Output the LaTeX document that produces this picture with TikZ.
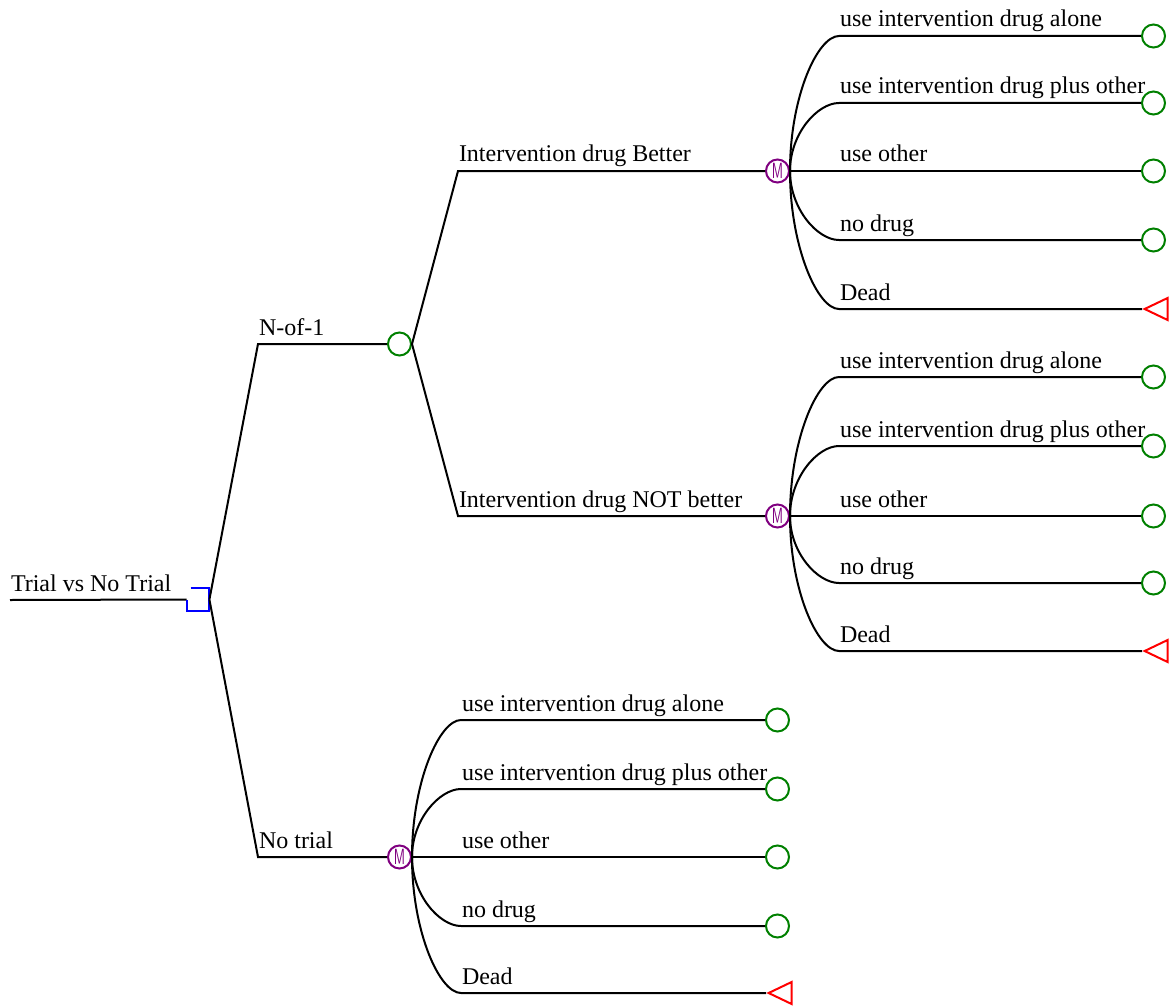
\documentclass[tikz,border=0pt]{standalone}
\usepackage{fontspec}
\setmainfont{Liberation Serif}
\usetikzlibrary{positioning}
\usetikzlibrary{calc}
\usetikzlibrary{shapes.geometric}
\definecolor{chancegreen}{RGB}{0,128,0}
\definecolor{markovpurple}{RGB}{128,0,128}
\tikzset{
  branch/.style   = {draw, line width=1pt},
  lbl/.style      = {anchor=base west, inner sep=0pt, yshift=4.5pt, pos=0,
                     font=\fontsize{12}{14}\selectfont},
  chance/.style   = {shape=circle, draw=chancegreen, line width=1pt,
                     minimum size=11.5pt, inner sep=0pt},
  markov/.style   = {chance, draw=markovpurple, text=markovpurple,
                     font=\sffamily\fontsize{11}{11}\selectfont},
  dead/.style     = {shape=isosceles triangle, shape border rotate=180,
                     isosceles triangle stretches, draw=red, line width=1pt,
                     minimum height=11.5pt, minimum width=11pt, inner sep=0pt},
  decision/.style = {shape=rectangle, minimum size=11pt, inner sep=0pt},
  outcome/.style  = {branch, to path={
                     .. controls ($(\tikztostart)!0.552!(\tikztostart |- \tikztotarget)$)
                     and ([xshift=13.8pt]\tikztostart |- \tikztotarget)
                     .. ([xshift=24.5pt]\tikztostart |- \tikztotarget) -- (\tikztotarget) \tikztonodes}}
}
\newcommand{\markovM}{\scalebox{0.6}[1]{M}}

\begin{document}
\begin{tikzpicture}[x=0.5pt, y=-0.5pt]
  \useasboundingbox (0,0) rectangle (1172,1006);
  % root and decision
  \coordinate (root) at (10,600);
  \node [decision] (dec) at (198,599.5) {};
  \draw [line width=1pt] (root) -- node [lbl] {Trial vs No Trial} (dec.west);
  \draw [blue, line width=1pt] ([xshift=2pt]dec.north west) -- (dec.north east)
        -- (dec.south east) -- (dec.south west) -- (dec.west);
  % first level
  \node [chance] (trial) at (399.5,344) {};
  \node [markov] (notrial) at (399.5,857) {\markovM};
  \coordinate (trialk) at (258,344);
  \coordinate (notrialk) at (258,857);
  \draw [line width=1pt] (dec.east) -- (trialk) -- node [lbl] {N-of-1} (trial.west);
  \draw [line width=1pt] (dec.east) -- (notrialk) -- node [lbl] {No trial} (notrial.west);
  % second level
  \node [markov] (better) at (777.5,171) {\markovM};
  \node [markov] (notbetter) at (777.5,516) {\markovM};
  \coordinate (betterk) at (458,171);
  \coordinate (notbetterk) at (458,516);
  \draw [line width=1pt] (trial.east) -- (betterk) -- node [lbl] {Intervention drug Better} (better.west);
  \draw [line width=1pt] (trial.east) -- (notbetterk) -- node [lbl] {Intervention drug NOT better} (notbetter.west);
  % states after better
  \node [chance] (b1) at (1153.5,36) {};
  \node [chance] (b2) at (1153.5,103) {};
  \node [chance] (b3) at (1153.5,171) {};
  \node [chance] (b4) at (1153.5,240) {};
  \node [dead, anchor=apex] (b5) at (1142,309) {};
  \path (better.east) edge [outcome] node [lbl] {use intervention drug alone} (b1.west);
  \path (better.east) edge [outcome] node [lbl] {use intervention drug plus other} (b2.west);
  \path (better.east) edge [outcome] node [lbl] {use other} (b3.west);
  \path (better.east) edge [outcome] node [lbl] {no drug} (b4.west);
  \path (better.east) edge [outcome] node [lbl] {Dead} (b5.apex);
  % states after not better
  \node [chance] (n1) at (1153.5,377) {};
  \node [chance] (n2) at (1153.5,446) {};
  \node [chance] (n3) at (1153.5,516) {};
  \node [chance] (n4) at (1153.5,583) {};
  \node [dead, anchor=apex] (n5) at (1142,651) {};
  \path (notbetter.east) edge [outcome] node [lbl] {use intervention drug alone} (n1.west);
  \path (notbetter.east) edge [outcome] node [lbl] {use intervention drug plus other} (n2.west);
  \path (notbetter.east) edge [outcome] node [lbl] {use other} (n3.west);
  \path (notbetter.east) edge [outcome] node [lbl] {no drug} (n4.west);
  \path (notbetter.east) edge [outcome] node [lbl] {Dead} (n5.apex);
  % states without trial
  \node [chance] (t1) at (777.5,720) {};
  \node [chance] (t2) at (777.5,789) {};
  \node [chance] (t3) at (777.5,857) {};
  \node [chance] (t4) at (777.5,926) {};
  \node [dead, anchor=apex] (t5) at (766,993) {};
  \path (notrial.east) edge [outcome] node [lbl] {use intervention drug alone} (t1.west);
  \path (notrial.east) edge [outcome] node [lbl] {use intervention drug plus other} (t2.west);
  \path (notrial.east) edge [outcome] node [lbl] {use other} (t3.west);
  \path (notrial.east) edge [outcome] node [lbl] {no drug} (t4.west);
  \path (notrial.east) edge [outcome] node [lbl] {Dead} (t5.apex);
\end{tikzpicture}
\end{document}
